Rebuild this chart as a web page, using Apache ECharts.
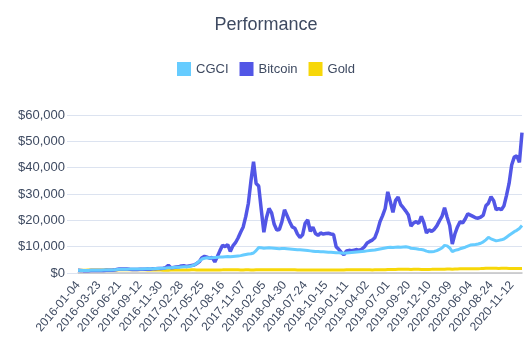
<!DOCTYPE html>
<html>
<head>
<meta charset="utf-8">
<title>Performance</title>
<script src="https://cdn.jsdelivr.net/npm/echarts@6/dist/echarts.min.js"></script>
<style>
    html, body { margin: 0; padding: 0; background: #fff; }
    #main { width: 532px; height: 352px; }
</style>
</head>
<body>
<div id="main"></div>
<script>
// dates (sampled), one label shown every 8th point
var dates = [
    '2016-01-04','2016-01-14','2016-01-25','2016-02-03','2016-02-12','2016-02-23','2016-03-03','2016-03-14',
    '2016-03-23','2016-04-04','2016-04-15','2016-04-26','2016-05-06','2016-05-17','2016-05-27','2016-06-09',
    '2016-06-21','2016-07-01','2016-07-13','2016-07-22','2016-08-02','2016-08-11','2016-08-22','2016-08-31',
    '2016-09-12','2016-09-21','2016-09-30','2016-10-11','2016-10-20','2016-10-31','2016-11-09','2016-11-18',
    '2016-11-30','2016-12-12','2016-12-23','2017-01-04','2017-01-13','2017-01-25','2017-02-03','2017-02-15',
    '2017-02-28','2017-03-10','2017-03-21','2017-03-31','2017-04-11','2017-04-21','2017-05-03','2017-05-15',
    '2017-05-25','2017-06-05','2017-06-14','2017-06-23','2017-07-05','2017-07-14','2017-07-25','2017-08-04',
    '2017-08-16','2017-08-25','2017-09-06','2017-09-15','2017-09-26','2017-10-05','2017-10-16','2017-10-26',
    '2017-11-07','2017-11-16','2017-11-28','2017-12-07','2017-12-18','2017-12-28','2018-01-10','2018-01-23',
    '2018-02-05','2018-02-14','2018-02-26','2018-03-07','2018-03-16','2018-03-27','2018-04-09','2018-04-19',
    '2018-04-30','2018-05-09','2018-05-18','2018-05-30','2018-06-08','2018-06-19','2018-06-29','2018-07-12',
    '2018-07-24','2018-08-02','2018-08-13','2018-08-22','2018-08-31','2018-09-12','2018-09-21','2018-10-03',
    '2018-10-15','2018-10-24','2018-11-02','2018-11-13','2018-11-26','2018-12-05','2018-12-14','2018-12-28',
    '2019-01-11','2019-01-22','2019-02-01','2019-02-12','2019-02-22','2019-03-05','2019-03-14','2019-03-22',
    '2019-04-02','2019-04-11','2019-04-22','2019-05-01','2019-05-10','2019-05-21','2019-05-31','2019-06-11',
    '2019-07-01','2019-07-11','2019-07-22','2019-07-31','2019-08-09','2019-08-20','2019-08-29','2019-09-10',
    '2019-09-20','2019-09-30','2019-10-09','2019-10-18','2019-10-29','2019-11-07','2019-11-18','2019-11-27',
    '2019-12-10','2019-12-19','2019-12-31','2020-01-10','2020-01-21','2020-01-30','2020-02-10','2020-02-26',
    '2020-03-09','2020-03-18','2020-03-27','2020-04-07','2020-04-17','2020-04-28','2020-05-07','2020-05-18',
    '2020-06-04','2020-06-12','2020-06-23','2020-07-02','2020-07-14','2020-07-23','2020-08-03','2020-08-12',
    '2020-08-24','2020-09-02','2020-09-14','2020-09-23','2020-10-02','2020-10-13','2020-10-22','2020-11-02',
    '2020-11-12','2020-11-20','2020-11-30','2020-12-09','2020-12-18'
];

var cgci = [
    1000, 980, 950, 930, 960, 1000, 1020, 1050,
    1060, 1080, 1100, 1120, 1150, 1180, 1220, 1300,
    1400, 1420, 1450, 1450, 1480, 1500, 1500, 1520,
    1550, 1550, 1580, 1600, 1600, 1650, 1700, 1750,
    1800, 1850, 1900, 2000, 2000, 2100, 2150, 2200,
    2300, 2350, 2400, 2500, 2700, 3000, 3700, 4500,
    5300, 5600, 5800, 5700, 5800, 5900, 6000, 6100,
    6100, 6200, 6300, 6200, 6300, 6400, 6500, 6600,
    6800, 7000, 7200, 7300, 7600, 8500, 9700, 9600,
    9400, 9500, 9600, 9500, 9400, 9300, 9200, 9300,
    9300, 9200, 9100, 9000, 8900, 8800, 8800, 8700,
    8600, 8500, 8400, 8300, 8200, 8200, 8100, 8100,
    8000, 7900, 7900, 7800, 7700, 7700, 7600, 7500,
    7600, 7700, 7800, 7900, 8000, 8100, 8200, 8300,
    8400, 8500, 8600, 8700, 8900, 9100, 9300, 9500,
    9700, 9800, 9700, 9800, 9900, 9800, 9900, 10000,
    9800, 9400, 9300, 9200, 9000, 8900, 8700, 8300,
    8100, 8100, 8200, 8500, 9000, 9500, 10500, 10300,
    9500, 8100, 8600, 8800, 9200, 9500, 9800, 10200,
    10600, 10700, 10800, 11000, 11300, 11800, 12600, 13500,
    13000, 12600, 12200, 12400, 12600, 12900, 13600, 14300,
    15000, 15700, 16200, 16900, 18000
];

var bitcoin = [
    1000, 980, 900, 860, 880, 960, 980, 950,
    960, 970, 990, 1060, 1040, 1050, 1100, 1340,
    1550, 1560, 1520, 1500, 1400, 1360, 1350, 1330,
    1400, 1380, 1400, 1480, 1460, 1620, 1640, 1710,
    1710, 1800, 2050, 2900, 1950, 2100, 2250, 2350,
    2700, 2750, 2500, 2700, 2850, 3000, 3600, 4300,
    5800, 6300, 6000, 5600, 5900, 4200, 6300, 8500,
    10500, 10000, 10800, 8200, 10300, 11500, 13300, 15500,
    17500, 21500, 26500, 35000, 42300, 34000, 33000, 24000,
    15500, 21000, 24500, 22800, 18500, 16300, 16500, 19500,
    24000, 21800, 19500, 17500, 17000, 14800, 13500, 14500,
    18900, 20200, 15800, 17400, 15000, 14300, 15200, 14800,
    15000, 15100, 14800, 14600, 10000, 9000, 7800, 6900,
    8400, 8600, 8500, 8700, 8900, 8600, 9100, 10000,
    11400, 12000, 12500, 13400, 16000, 19500, 21800, 24500,
    30800, 27000, 23000, 27500, 28800, 26000, 24800, 23500,
    22000, 17800, 19000, 19500, 18800, 21500, 19000, 15200,
    16400, 15800, 16600, 17900, 19800, 21500, 24800, 21200,
    18000, 11000, 14800, 17500, 19500, 19000, 20500, 22500,
    22000, 21500, 21000, 20800, 21200, 22000, 25500, 26500,
    29000, 27500, 24000, 24500, 24000, 25500, 29500, 34000,
    41000, 44000, 44500, 42000, 53300
];

var gold = [
    1000, 1010, 1030, 1050, 1150, 1140, 1160, 1160,
    1140, 1140, 1150, 1190, 1180, 1170, 1130, 1170,
    1190, 1250, 1240, 1230, 1260, 1250, 1240, 1220,
    1230, 1240, 1230, 1170, 1180, 1180, 1170, 1130,
    1100, 1080, 1050, 1070, 1100, 1120, 1120, 1140,
    1160, 1120, 1140, 1170, 1190, 1190, 1140, 1140,
    1180, 1180, 1170, 1160, 1140, 1160, 1180, 1180,
    1200, 1230, 1250, 1230, 1210, 1190, 1200, 1180,
    1180, 1190, 1190, 1170, 1160, 1200, 1230, 1240,
    1240, 1250, 1230, 1230, 1230, 1250, 1250, 1250,
    1230, 1220, 1200, 1210, 1200, 1180, 1170, 1150,
    1140, 1130, 1120, 1110, 1120, 1120, 1110, 1120,
    1140, 1150, 1140, 1120, 1130, 1150, 1160, 1180,
    1200, 1190, 1220, 1210, 1240, 1200, 1210, 1220,
    1200, 1210, 1180, 1190, 1200, 1190, 1210, 1240,
    1310, 1300, 1320, 1330, 1390, 1400, 1420, 1390,
    1400, 1370, 1400, 1390, 1390, 1370, 1360, 1350,
    1360, 1380, 1410, 1440, 1450, 1470, 1460, 1530,
    1560, 1430, 1510, 1550, 1600, 1590, 1590, 1620,
    1600, 1610, 1650, 1650, 1680, 1720, 1830, 1790,
    1800, 1810, 1810, 1740, 1770, 1770, 1780, 1750,
    1750, 1740, 1700, 1720, 1740
];

var seriesNames = ['CGCI', 'Bitcoin', 'Gold'];
var seriesColors = ['#66ccff', '#5256e6', '#f7d708'];

var textColor = '#3e4a61';
var gridColor = '#dce3f0';

var myChart = echarts.init(document.getElementById('main'));

var option = {
    animation: false,
    color: seriesColors,
    textStyle: {
        fontFamily: 'Liberation Sans, Arial, sans-serif'
    },
    title: {
        text: 'Performance',
        left: 'center',
        top: 11,
        textStyle: {
            color: textColor,
            fontSize: 18,
            fontWeight: 'normal'
        }
    },
    legend: {
        top: 57,
        left: 'center',
        itemWidth: 14,
        itemHeight: 14,
        itemGap: 11,
        icon: 'rect',
        textStyle: {
            color: textColor,
            fontSize: 13
        },
        data: seriesNames
    },
    grid: {
        left: 78,
        right: 10,
        top: 115,
        bottom: 79
    },
    xAxis: {
        type: 'category',
        boundaryGap: false,
        data: dates,
        axisLine: {
            lineStyle: { color: '#c4c4c4', width: 1.5 }
        },
        axisTick: { show: false },
        axisLabel: {
            interval: 7,
            rotate: 50,
            margin: 10,
            fontSize: 12,
            color: textColor
        },
        splitLine: { show: false }
    },
    yAxis: {
        type: 'value',
        min: 0,
        max: 60000,
        interval: 10000,
        axisLine: { show: false },
        axisTick: {
            show: true,
            length: 11,
            lineStyle: { color: gridColor }
        },
        axisLabel: {
            margin: 13,
            fontSize: 13,
            color: textColor,
            formatter: function (v) {
                return '$' + v.toLocaleString('en-US');
            }
        },
        splitLine: {
            lineStyle: { color: gridColor }
        }
    },
    series: [
        {
            name: 'CGCI',
            type: 'line',
            data: cgci,
            showSymbol: false,
            z: 4,
            lineStyle: { width: 3 }
        },
        {
            name: 'Bitcoin',
            type: 'line',
            data: bitcoin,
            showSymbol: false,
            z: 3,
            lineStyle: { width: 3.5 }
        },
        {
            name: 'Gold',
            type: 'line',
            data: gold,
            showSymbol: false,
            z: 2,
            lineStyle: { width: 3 }
        }
    ]
};

myChart.setOption(option);
</script>
</body>
</html>
